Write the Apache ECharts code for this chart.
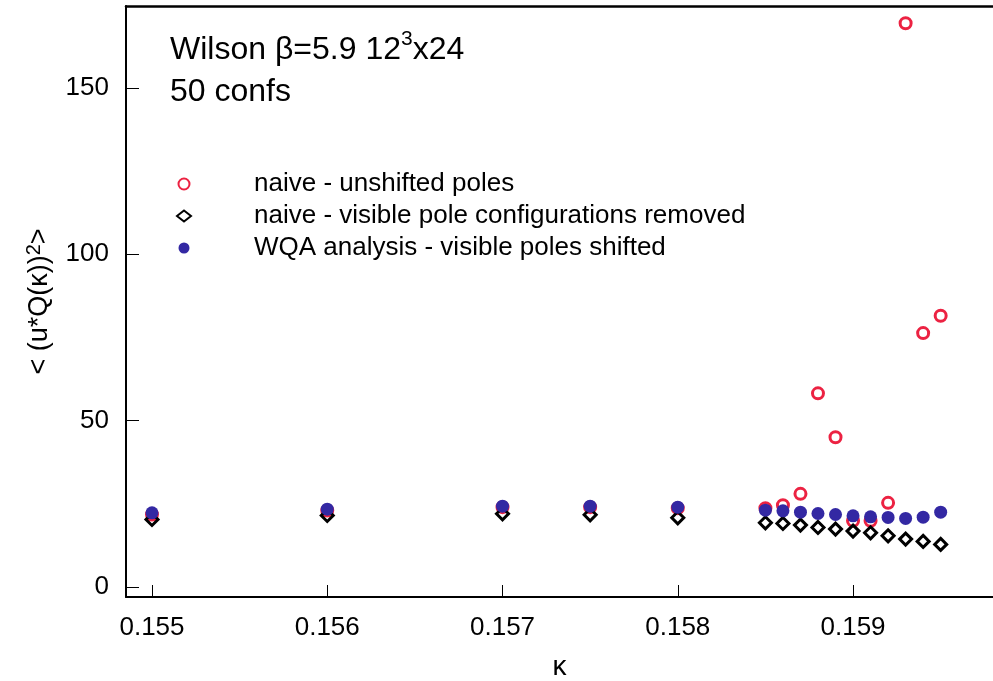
<!DOCTYPE html>
<html>
<head>
<meta charset="utf-8">
<script src="https://cdn.jsdelivr.net/npm/echarts@6/dist/echarts.min.js"></script>
<style>
html,body{margin:0;padding:0;background:#fff;}
#c{width:993px;height:681px;}
</style>
</head>
<body>
<div id="c"></div>
<script>
// ---- data ----
const kappa = [0.155, 0.156, 0.157, 0.1575, 0.158, 0.1585, 0.1586, 0.1587, 0.1588, 0.1589, 0.1590, 0.1591, 0.1592, 0.1593, 0.1594, 0.1595];
const naiveUnshifted = [21.8, 23.0, 24.0, 24.0, 23.7, 23.7, 24.6, 28.0, 58.2, 45.0, 19.9, 19.9, 25.3, 169.4, 76.3, 81.5];
const naiveRemoved = [20.3, 21.5, 22.0, 21.7, 20.8, 19.3, 19.1, 18.6, 17.9, 17.4, 16.8, 16.3, 15.4, 14.4, 13.7, 12.8];
const wqaShifted = [22.3, 23.4, 24.3, 24.3, 24.0, 23.1, 22.9, 22.5, 22.1, 21.8, 21.4, 21.1, 20.9, 20.6, 21.0, 22.5];
const xTicks = [0.155, 0.156, 0.157, 0.158, 0.159];
const yTicks = [0, 50, 100, 150];
const seriesNames = ['naive - unshifted poles', 'naive - visible pole configurations removed', 'WQA analysis - visible poles shifted'];

const pairs = ys => kappa.map((k, i) => [k, ys[i]]);
const FONT = '"Liberation Sans", Arial, Helvetica, sans-serif';
const X_MIN = 0.1548517, X_MAX = 0.1597986;

const chart = echarts.init(document.getElementById('c'), null, {renderer: 'canvas'});
chart.setOption({
  animation: false,
  backgroundColor: '#ffffff',
  textStyle: {fontFamily: FONT, color: '#000'},
  title: {
    text: 'Wilson β=5.9 12{sup|3}x24\n50 confs',
    left: 170, top: 29, padding: 0,
    textStyle: {
      fontFamily: FONT, fontSize: 32, fontWeight: 'normal', color: '#000', lineHeight: 42,
      rich: {sup: {fontFamily: FONT, fontSize: 21, verticalAlign: 'top', padding: [0,0,14,0], color: '#000'}}
    }
  },
  legend: {
    orient: 'vertical',
    left: 176, top: 168,
    itemWidth: 14, itemHeight: 11, itemGap: 0,
    padding: 0,
    data: seriesNames,
    formatter: name => '{s|}' + name,
    textStyle: {
      fontFamily: FONT, fontSize: 26, color: '#000', lineHeight: 32,
      rich: {s: {width: 58}}
    }
  },
  grid: {left: 126, top: 6, right: 0, bottom: 84, containLabel: false, outerBoundsMode: 'none'},
  xAxis: [{
    type: 'value',
    min: X_MIN, max: X_MAX,
    name: 'κ', nameLocation: 'middle', nameGap: 56,
    nameTextStyle: {fontFamily: FONT, fontSize: 28, color: '#000'},
    axisLine: {show: true, onZero: false, lineStyle: {color: '#000', width: 2}},
    axisTick: {show: true, inside: true, length: 12, customValues: xTicks, lineStyle: {color: '#000', width: 1}},
    axisLabel: {show: true, margin: 18, customValues: xTicks, fontFamily: FONT, fontSize: 26, color: '#000',
      formatter: v => v.toFixed(3)},
    splitLine: {show: false}
  }, {
    type: 'value', position: 'top',
    min: X_MIN, max: X_MAX,
    axisLine: {show: true, onZero: false, lineStyle: {color: '#000', width: 2.5}},
    axisTick: {show: false}, axisLabel: {show: false}, splitLine: {show: false}
  }],
  yAxis: {
    type: 'value',
    min: -3, max: 174.6,
    name: '< (u*Q(κ)){sup|2}>', nameLocation: 'middle', nameGap: 70, nameRotate: 90,
    nameTextStyle: {fontFamily: FONT, fontSize: 27, color: '#000',
      rich: {sup: {fontFamily: FONT, fontSize: 20, verticalAlign: 'top', padding: [0,0,12,0], color: '#000'}}},
    axisLine: {show: true, onZero: false, lineStyle: {color: '#000', width: 2}},
    axisTick: {show: true, inside: true, length: 13, customValues: yTicks, lineStyle: {color: '#000', width: 1}},
    axisLabel: {show: true, margin: 17, customValues: yTicks, fontFamily: FONT, fontSize: 26, color: '#000'},
    splitLine: {show: false}
  },
  series: [{
    name: seriesNames[0], type: 'scatter', z: 2,
    symbol: 'circle', symbolSize: 11,
    itemStyle: {color: 'rgba(255,255,255,0)', borderColor: '#ec2242', borderWidth: 3, opacity: 1},
    data: pairs(naiveUnshifted)
  }, {
    name: seriesNames[1], type: 'scatter', z: 3,
    symbol: 'diamond', symbolSize: 12,
    itemStyle: {color: 'rgba(255,255,255,0)', borderColor: '#000000', borderWidth: 3, opacity: 1},
    data: pairs(naiveRemoved)
  }, {
    name: seriesNames[2], type: 'scatter', z: 4,
    symbol: 'circle', symbolSize: 13,
    itemStyle: {color: '#3328a3', opacity: 1},
    data: pairs(wqaShifted)
  }]
});
</script>
</body>
</html>
